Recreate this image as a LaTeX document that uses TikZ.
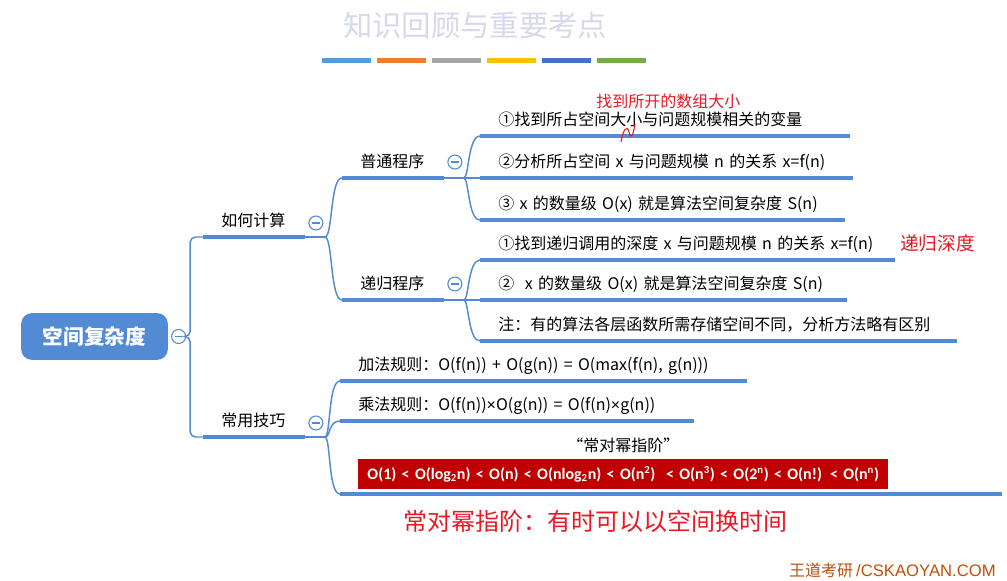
\documentclass[tikz,border=0pt]{standalone}
\usepackage{fontspec}
\setmainfont{Noto Sans CJK SC}
\newfontfamily\calibrifont{Carlito}
\newfontfamily\arialfont{Liberation Sans}
\usepackage{tikz}
\usetikzlibrary{positioning,calc}
\usepackage{xcolor}
\definecolor{mapblue}{RGB}{82,139,211}
\definecolor{ordred}{RGB}{192,0,0}
\definecolor{penred}{RGB}{232,24,36}
\definecolor{titlegray}{RGB}{214,217,236}
\definecolor{footorange}{RGB}{192,80,10}
\definecolor{barblue}{RGB}{91,155,213}
\definecolor{barorange}{RGB}{237,125,49}
\definecolor{bargray}{RGB}{165,165,165}
\definecolor{bargold}{RGB}{255,192,0}
\definecolor{bardblue}{RGB}{68,114,196}
\definecolor{bargreen}{RGB}{112,173,71}
\newcommand{\lgtwo}{log\textsubscript{2}}
\newcommand{\tms}{{\arialfont ×}}

\begin{document}
\begin{tikzpicture}[
    x=0.75pt, y=-0.75pt,
    root_box/.style={
      rectangle, rounded corners=8pt, fill=mapblue, text=white,
      minimum width=110pt, minimum height=35pt,
      font=\fontsize{15.5}{18}\selectfont\bfseries
    },
    topic/.style={
      anchor=south west, inner xsep=13.5pt, inner ysep=4.5pt, text depth=3pt,
      text width=49pt, align=left, font=\fontsize{12}{14}\selectfont
    },
    leaf/.style={
      topic, text width=#1
    },
    order_leaf/.style={
      anchor=south west, inner xsep=13.5pt, inner ysep=3.5pt,
      text width=469pt, align=left, font=\fontsize{12}{14}\selectfont
    },
    fold_btn/.style={
      circle, draw=mapblue, thick, fill=white, minimum size=10.5pt, inner sep=0pt,
      path picture={\draw[mapblue, line width=0.8pt]
        ([xshift=-2.8pt]path picture bounding box.center) --
        ([xshift=2.8pt]path picture bounding box.center);}
    },
    branch/.style={mapblue, line width=1.1pt},
    uline/.style={mapblue, line width=3.4pt},
    pen/.style={text=penred, inner sep=0pt, anchor=west}
  ]
  \fill[white] (0,0) rectangle (1007,581);
  \useasboundingbox (0,0) rectangle (1007,581);

  % --- Title and colour bars ---
  \node[font=\fontsize{22}{26}\selectfont, text=titlegray] (title) at (475,25) {知识回顾与重要考点};
  \foreach \c [count=\i from 0] in {barblue,barorange,bargray,bargold,bardblue,bargreen}
    \fill[\c] (322+55*\i,58) rectangle ++(49,5);

  % --- Root and first level ---
  \node[root_box] (root) at (94.5,336.5) {空间复杂度};
  \node[fold_btn, right=2.25pt of root] (f_root) {};

  \node[topic] (calc) at (203,237) {如何计算};
  \node[topic] (tips) at (203,437) {常用技巧};

  \draw[branch, rounded corners=4pt] (f_root.east) -- ++(4,0) |- (calc.south west);
  \draw[branch, rounded corners=4pt] (f_root.east) -- ++(4,0) |- (tips.south west);

  \draw[branch] (calc.south east) -- ++(20,0) coordinate (calc_out);
  \draw[branch] (tips.south east) -- ++(20,0) coordinate (tips_out);
  \node[fold_btn] (f_calc) at ([shift={(-9,-14)}]calc_out) {};
  \node[fold_btn] (f_tips) at ([shift={(-9,-14)}]tips_out) {};

  % --- How to compute ---
  \node[topic] (plain) at (342,178) {普通程序};
  \node[topic] (recur) at (342,300) {递归程序};

  \draw[branch] (calc_out) .. controls +(8,0) and +(-12,0) .. (plain.south west);
  \draw[branch] (calc_out) .. controls +(8,0) and +(-12,0) .. (recur.south west);

  \draw[branch] (plain.south east) -- ++(20,0) coordinate (plain_out);
  \draw[branch] (recur.south east) -- ++(20,0) coordinate (recur_out);
  \node[fold_btn] (f_plain) at ([shift={(-9,-16)}]plain_out) {};
  \node[fold_btn] (f_recur) at ([shift={(-9,-16)}]recur_out) {};

  \node[leaf=250pt] (p1) at (480,136) {①找到所占空间大小与问题规模相关的变量};
  \node[leaf=252pt] (p2) at (480,178) {②分析所占空间 x 与问题规模 n 的关系 x=f(n)};
  \node[leaf=246pt] (p3) at (480,220) {③ x 的数量级 O(x) 就是算法空间复杂度 S(n)};

  \node[leaf=284pt] (r1) at (480,260) {①找到递归调用的深度 x 与问题规模 n 的关系 x=f(n)};
  \node[leaf=248pt] (r2) at (480,300) {②\ \ x 的数量级 O(x) 就是算法空间复杂度 S(n)};
  \node[leaf=330pt] (r3) at (480,341) {注：有的算法各层函数所需存储空间不同，分析方法略有区别};

  \foreach \n in {p1,p2,p3}
    \draw[branch] (plain_out) .. controls +(5,0) and +(-12,0) .. (\n.south west);
  \foreach \n in {r1,r2,r3}
    \draw[branch] (recur_out) .. controls +(5,0) and +(-12,0) .. (\n.south west);

  % --- Common tricks ---
  \node[leaf=278pt] (t1) at (340,381) {加法规则：O(f(n)) + O(g(n)) = O(max(f(n), g(n)))};
  \node[leaf=238pt] (t2) at (340,421) {乘法规则：O(f(n))\tms O(g(n)) = O(f(n)\tms g(n))};
  \node[order_leaf] (t3) at (340,494) {\makebox[397.5pt]{“常对幂指阶”}\\[4pt]%
    {\setlength\fboxsep{2.5pt}\colorbox{ordred}{\makebox[392.5pt]{\rule[-5pt]{0pt}{17.5pt}%
    \calibrifont\bfseries\fontsize{12}{14}\selectfont\color{white}%
    O(1) < O(\lgtwo n) < O(n) < O(n\lgtwo n) < O(n\textsuperscript{2}) \ < O(n\textsuperscript{3}) < O(2\textsuperscript{n}) < O(n!) < O(n\textsuperscript{n})}}}};

  \foreach \n in {t1,t2,t3}
    \draw[branch] (tips_out) .. controls +(6,0) and +(-12,0) .. (\n.south west);

  \foreach \n in {calc,tips,plain,recur,p1,p2,p3,r1,r2,r3,t1,t2,t3}
    \draw[uline] (\n.south west) -- (\n.south east);

  % --- Handwritten notes ---
  \node[pen, font=\fontsize{12}{14}\selectfont] (pen_arr) at (596,101) {找到所开的数组大小};
  \draw[penred, line width=0.8pt] (621,142) .. controls (623,130) and (627,124) .. (629,132)
    .. controls (631,140) and (633,136) .. (635,124);
  \node[pen, font=\fontsize{14}{16}\selectfont] (pen_dep) at (900,243) {递归深度};
  \node[pen, font=\fontsize{18}{20}\selectfont] (pen_ord) at (403,521) {常对幂指阶：有时可以以空间换时间};

  % --- Footer ---
  \node[anchor=east, text=footorange, inner sep=0pt] (footer) at (996,570)
    {{\fontsize{12}{14}\selectfont 王道考研} {\arialfont\fontsize{12.5}{15}\selectfont /CSKAOYAN.COM}};
\end{tikzpicture}
\end{document}
